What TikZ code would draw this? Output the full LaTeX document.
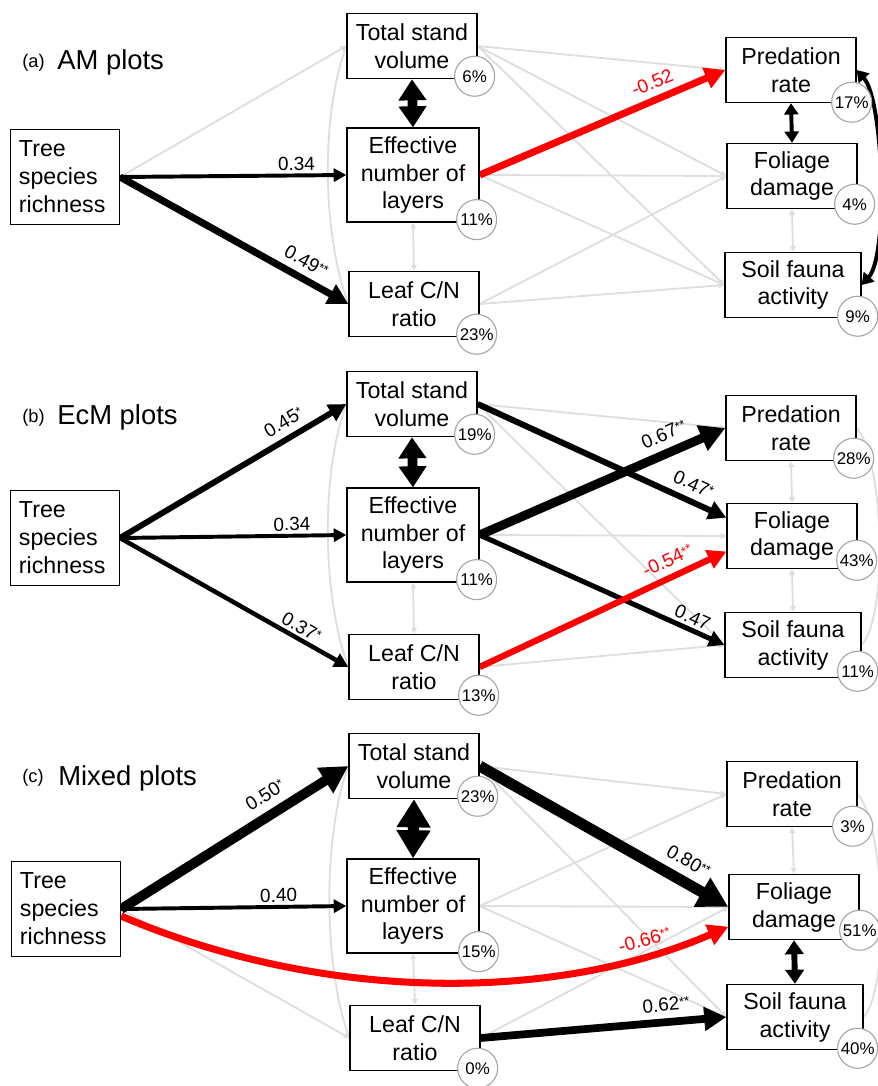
\documentclass[tikz,border=0pt]{standalone}
\usepackage{fontspec}
\setmainfont{Liberation Sans}
\usepackage{tikz}
\usetikzlibrary{arrows.meta}
\newcommand{\stars}[1]{\raisebox{2.5pt}{\fontsize{9}{9}\selectfont#1}}

\begin{document}
\begin{tikzpicture}[x=0.025cm,y=-0.025cm]
\tikzstyle{var} = [draw,fill=white,line width=0.9pt,inner sep=0pt,align=center,font=\fontsize{16.5}{19.9}\selectfont]
\tikzstyle{var2} = [var,minimum width=3.25cm,minimum height=1.63cm]
\tikzstyle{var3} = [var,minimum width=3.3cm,minimum height=2.35cm]
\tikzstyle{varT} = [var,minimum width=2.72cm,minimum height=2.36cm,text width=2.3cm,align=left]
\tikzstyle{rsq} = [circle,draw=black!35,fill=white,line width=0.8pt,minimum size=1cm,inner sep=0pt,font=\fontsize{12}{12}\selectfont]
\tikzstyle{sig} = [line width=2.8pt,-{Triangle[length=2pt 2.5,width=2pt 2.6]}]
\tikzstyle{neg} = [sig,red]
\tikzstyle{ns} = [black!13,line width=1.3pt,-{Triangle[length=4pt,width=4pt]}]
\tikzstyle{nscov} = [ns,{Triangle[length=4pt,width=4pt]}-{Triangle[length=4pt,width=4pt]}]
\tikzstyle{nsarc} = [black!13,line width=1.3pt]
\tikzstyle{cov} = [line width=7pt,{Triangle[length=15pt,width=19pt]}-{Triangle[length=15pt,width=19pt]}]
\tikzstyle{covbig} = [line width=8pt,{Triangle[length=20pt,width=23pt]}-{Triangle[length=20pt,width=23pt]}]
\tikzstyle{covsm} = [line width=2.8pt,{Triangle[length=8pt,width=10pt]}-{Triangle[length=8pt,width=10pt]}]
\tikzstyle{coef} = [sloped,above=2pt,inner sep=0pt,font=\fontsize{13.5}{14}\selectfont]
\tikzstyle{lab} = [inner sep=0pt,anchor=base west,font=\fontsize{13}{13}\selectfont]
\tikzstyle{ttl} = [inner sep=0pt,anchor=base west,font=\fontsize{19.5}{20}\selectfont]

\pgfdeclarelayer{background}
\pgfsetlayers{background,main}

\useasboundingbox (0,0) rectangle (878,1086);

% (a) AM plots
\node[lab] (la) at (22,67) {(a)};
\node[ttl] (ta) at (57,69) {AM plots};
\node[varT] (a1) at (65,177) {Tree\\species\\richness};
\node[var2] (a2) at (412,46) {Total stand\\volume};
\node[var3] (a3) at (413,175) {Effective\\number of\\layers};
\node[var2] (a4) at (414,304) {Leaf C/N\\ratio};
\node[var2] (a5) at (791,70) {Predation\\rate};
\node[var2] (a6) at (792,176) {Foliage\\damage};
\node[var2,minimum width=3.4cm] (a7) at (793,285) {Soil fauna\\activity};
\node[rsq] (ra2) at ([shift={(-3,-3)}]a2.south east) {6\%};
\node[rsq] (ra3) at ([shift={(-3,-3)}]a3.south east) {11\%};
\node[rsq] (ra4) at ([shift={(-3,-3)}]a4.south east) {23\%};
\node[rsq] (ra5) at ([shift={(-5,-1)}]a5.south east) {17\%};
\node[rsq] (ra6) at ([shift={(-3,-5)}]a6.south east) {4\%};
\node[rsq] (ra7) at ([shift={(-4,-2)}]a7.south east) {9\%};

% (b) EcM plots
\node[lab] (lb) at (22,422) {(b)};
\node[ttl] (tb) at (57,424) {EcM plots};
\node[varT] (b1) at (65,538) {Tree\\species\\richness};
\node[var2] (b2) at (412,404) {Total stand\\volume};
\node[var3] (b3) at (413,535) {Effective\\number of\\layers};
\node[var2] (b4) at (414,667) {Leaf C/N\\ratio};
\node[var2] (b5) at (791,428) {Predation\\rate};
\node[var2] (b6) at (792,536) {Foliage\\damage};
\node[var2,minimum width=3.4cm] (b7) at (793,645) {Soil fauna\\activity};
\node[rsq] (rb2) at ([shift={(-3,-3)}]b2.south east) {19\%};
\node[rsq] (rb3) at ([shift={(-3,-3)}]b3.south east) {11\%};
\node[rsq] (rb4) at ([shift={(-1,-5)}]b4.south east) {13\%};
\node[rsq] (rb5) at ([shift={(-3,-3)}]b5.south east) {28\%};
\node[rsq] (rb6) at ([shift={(-1,-9)}]b6.south east) {43\%};
\node[rsq] (rb7) at ([shift={(-4,-7)}]b7.south east) {11\%};

% (c) Mixed plots
\node[lab] (lc) at (22,782) {(c)};
\node[ttl] (tc) at (58,785) {Mixed plots};
\node[varT] (c1) at (66,909) {Tree\\species\\richness};
\node[var2] (c2) at (414,766) {Total stand\\volume};
\node[var3] (c3) at (413,906) {Effective\\number of\\layers};
\node[var2] (c4) at (415,1038) {Leaf C/N\\ratio};
\node[var2] (c5) at (792,794) {Predation\\rate};
\node[var2] (c6) at (794,907) {Foliage\\damage};
\node[var2,minimum width=3.4cm] (c7) at (795,1017) {Soil fauna\\activity};
\node[rsq] (rc2) at ([shift={(-2,-3)}]c2.south east) {23\%};
\node[rsq] (rc3) at ([shift={(-1,-2)}]c3.south east) {15\%};
\node[rsq] (rc4) at ([shift={(-3,-3)}]c4.south east) {0\%};
\node[rsq] (rc5) at ([shift={(-5,-1)}]c5.south east) {3\%};
\node[rsq] (rc6) at ([shift={(0,-10)}]c6.south east) {51\%};
\node[rsq] (rc7) at ([shift={(-6,-2)}]c7.south east) {40\%};

\begin{pgfonlayer}{background}
% (a)
\draw[ns] (a1.east) -- (a2.west);
\draw[ns] (a2.east) -- (a5.west);
\draw[ns] (a2.east) -- (a6.west);
\draw[ns] (a2.east) -- (a7.west);
\draw[ns] (a3.east) -- (a6.west);
\draw[ns] (a3.east) -- (a7.west);
\draw[ns] (a4.east) -- (a6.west);
\draw[ns] (a4.east) -- (a7.west);
\draw[nscov] (a3.south) -- (a4.north);
\draw[nscov] (a6.south) -- (a7.north);
\draw[nsarc] (a2.west) .. controls +(-26,70) and +(-26,-70) .. (a4.west);
\draw[sig] (a1.east) -- node[coef,pos=.78] {0.34} (a3.west);
\draw[sig,line width=5pt] (a1.east) -- node[coef,pos=.78,above=3pt] {0.49\stars{**}} (a4.west);
\draw[neg,line width=5pt] (a3.east) -- node[coef,pos=.73,above=3pt] {-0.52} (a5.west);
\draw[cov] (a2.south) -- (a3.north);
\draw[covsm] (a5.south) -- (a6.north);
\draw[covsm] (a5.east) .. controls +(27,30) and +(27,-30) .. (a7.east);

% (b)
\draw[ns] (b2.east) -- (b5.west);
\draw[ns] (b2.east) -- (b7.west);
\draw[ns] (b3.east) -- (b6.west);
\draw[ns] (b4.east) -- (b7.west);
\draw[nscov] (b3.south) -- (b4.north);
\draw[nscov] (b5.south) -- (b6.north);
\draw[nscov] (b6.south) -- (b7.north);
\draw[nsarc] (b2.west) .. controls +(-26,70) and +(-26,-70) .. (b4.west);
\draw[nsarc] (b5.east) .. controls +(27,30) and +(27,-30) .. (b7.east);
\draw[sig,line width=4.2pt] (b1.east) -- node[coef,pos=.76,above=3pt] {0.45\stars{*}} (b2.west);
\draw[sig] (b1.east) -- node[coef,pos=.76] {0.34} (b3.west);
\draw[sig,line width=3.2pt] (b1.east) -- node[coef,pos=.77] {0.37\stars{*}} (b4.west);
\draw[sig,line width=4.3pt] (b2.east) -- node[coef,pos=.84,above=3pt] {0.47\stars{*}} ([yshift=13pt]b6.west);
\draw[sig,line width=6.4pt] (b3.east) -- node[coef,pos=.78,above=3.5pt] {0.67\stars{**}} (b5.west);
\draw[sig,line width=3.6pt] (b3.east) -- node[coef,pos=.85] {0.47} (b7.west);
\draw[neg,line width=4.5pt] (b4.east) -- node[coef,pos=.79,above=3pt] {-0.54\stars{**}} ([yshift=-11pt]b6.west);
\draw[cov] (b2.south) -- (b3.north);

% (c)
\draw[ns] (c1.east) -- (c4.west);
\draw[ns] (c2.east) -- (c5.west);
\draw[ns] (c2.east) -- (c7.west);
\draw[ns] (c3.east) -- (c5.west);
\draw[ns] (c3.east) -- (c6.west);
\draw[ns] (c3.east) -- (c7.west);
\draw[ns] (c4.east) -- (c6.west);
\draw[nscov] (c3.south) -- (c4.north);
\draw[nscov] (c5.south) -- (c6.north);
\draw[nsarc] (c2.west) .. controls +(-26,70) and +(-26,-70) .. (c4.west);
\draw[nsarc] (c5.east) .. controls +(27,30) and +(27,-30) .. (c7.east);
\draw[sig,line width=7pt] (c1.east) -- node[coef,pos=.68,above=4pt] {0.50\stars{*}} (c2.west);
\draw[sig] (c1.east) -- node[coef,pos=.70] {0.40} (c3.west);
\draw[sig,line width=7.8pt] (c2.east) -- node[coef,pos=.8,above=4pt] {0.80\stars{**}} (c6.west);
\draw[sig,line width=5.5pt] (c4.east) -- node[coef,pos=.76,above=3pt] {0.62\stars{**}} (c7.west);
\draw[neg,line width=5pt] ([yshift=-5pt]c1.east) .. controls (330,1005) and (560,1000) .. node[coef,pos=.85,above=2pt] {-0.66\stars{**}} ([yshift=-14pt]c6.west);
\draw[covbig] (c2.south) -- (c3.north);
\draw[line width=4.2pt,{Triangle[length=10pt,width=13pt]}-{Triangle[length=10pt,width=13pt]}] (c6.south) -- (c7.north);
\end{pgfonlayer}
\end{tikzpicture}
\end{document}
